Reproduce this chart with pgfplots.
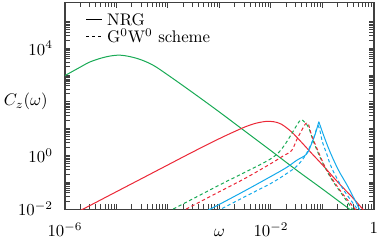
\documentclass[border=0pt]{standalone}
\usepackage{pgfplots}
\pgfplotsset{compat=1.18}
\definecolor{cgreen}{RGB}{25,170,85}
\definecolor{cred}{RGB}{235,40,55}
\definecolor{cblue}{RGB}{20,170,235}
\begin{document}
\begin{tikzpicture}
\begin{axis}[
  scale only axis, width=184.1pt, height=123.0pt,
  xmode=log, ymode=log,
  xmin=1e-6, xmax=1, ymin=1e-2, ymax=5e5,
  axis line style={black!75, line width=0.7pt},
  every tick/.style={black!75, line width=0.6pt},
  major tick length=3.0pt, minor tick num=0,
  tick align=inside, tick pos=both,
  xtick={1e-6,1e-5,1e-4,1e-3,1e-2,1e-1,1},
  xticklabels={$10^{-6}$,,,,$10^{-2}$,,$1$},
  ytick={1e-2,1e-1,1,1e1,1e2,1e3,1e4,1e5},
  yticklabels={$10^{-2}$,,$10^{0}$,,,,$10^{4}$,},
  xticklabel style={yshift=-4.5pt},
  yticklabel style={xshift=-3.7pt},
  xlabel={$\omega$},
  xlabel style={at={(axis description cs:0.5,-0.115)}, anchor=center},
  ylabel={$C_z(\omega)$},
  ylabel style={rotate=-90, at={(axis description cs:-0.127,0.52)}, anchor=center},
  legend style={draw=none, fill=none, at={(axis description cs:0.066,0.955)}, anchor=north west,
    inner sep=0pt, row sep=1.2pt,
    nodes={inner sep=0.4pt, text height=7.6pt, text depth=0.3pt},
    /tikz/every odd column/.append style={column sep=2.6pt}},
  legend cell align=left,
  legend image code/.code={\draw[#1] (0pt,0pt) -- (9.3pt,0pt);},
]
\addlegendimage{black, solid, line width=0.55pt}
\addlegendentry{NRG}
\addlegendimage{black, dash pattern=on 2pt off 1.55pt, line width=0.55pt}
\addlegendentry{G$^0$W$^0$ scheme}

% NRG (solid)
\addplot[cgreen, line width=0.6pt, smooth, tension=0.55, forget plot] coordinates {
(1e-6,955) (2.0e-6,1995) (3.16e-6,3162) (6.31e-6,4786) (1.2e-5,5495)
(2.51e-5,4169) (5.01e-5,2399) (1e-4,1000) (3.16e-4,209) (1e-3,41.7)
(3.16e-3,7.94) (1e-2,1.51) (3.16e-2,0.282) (0.1,0.0562) (0.363,0.0089)
};
\addplot[cred, line width=0.6pt, smooth, tension=0.55, forget plot] coordinates {
(2.0e-6,0.0089) (1e-5,0.0447) (3.16e-5,0.141) (1e-4,0.447) (3.16e-4,1.41)
(1e-3,4.27) (2.0e-3,7.94) (3.16e-3,11.7) (5.01e-3,15.8) (7.94e-3,18.6)
(1.12e-2,18.2) (1.585e-2,14.8) (2.51e-2,7.59) (3.98e-2,3.02) (6.31e-2,1.148)
(0.1,0.447) (0.2,0.1) (0.398,0.0251) (0.631,0.0091)
};
\addplot[cblue, line width=0.6pt, smooth, tension=0.55, forget plot] coordinates {
(5.62e-4,0.00851) (1e-3,0.0151) (3.16e-3,0.049) (1e-2,0.166) (2.0e-2,0.355)
(3.16e-2,0.661) (4.90e-2,1.122) (6.17e-2,2.82) (7.24e-2,6.31) (8.51e-2,18.2)
};
\addplot[cblue, line width=0.6pt, smooth, tension=0.55, forget plot] coordinates {
(8.51e-2,18.2) (0.105,5.75) (0.140,1.38) (0.204,0.288) (0.316,0.0661) (0.550,0.00832)
};

% G0W0 (dashed)
\addplot[cgreen, line width=0.6pt, smooth, tension=0.55, dash pattern=on 2pt off 1.55pt, forget plot] coordinates {
(1e-4,0.00794) (3.16e-4,0.0251) (1e-3,0.0794) (3.16e-3,0.240) (7.94e-3,0.589)
(1.26e-2,1.047) (1.78e-2,2.24) (2.51e-2,6.31) (3.16e-2,13.2) (3.80e-2,21.4)
(4.47e-2,17.8) (5.37e-2,11.2) (6.61e-2,3.55) (8.91e-2,0.891) (0.120,0.282)
(0.158,0.112) (0.251,0.0316) (0.417,0.00794)
};
\addplot[cred, line width=0.6pt, smooth, tension=0.55, dash pattern=on 2pt off 1.55pt, forget plot] coordinates {
(1.78e-4,0.00794) (1e-3,0.0447) (3.16e-3,0.141) (1e-2,0.501) (1.78e-2,1.0)
(2.51e-2,1.51) (3.16e-2,3.80) (3.98e-2,8.91) (4.79e-2,15.8) (5.37e-2,14.1)
(6.17e-2,5.62) (8.32e-2,1.38) (0.112,0.380) (0.158,0.126) (0.251,0.0355)
(0.479,0.00794)
};
\addplot[cblue, line width=0.6pt, smooth, tension=0.55, dash pattern=on 2pt off 1.55pt, forget plot] coordinates {
(8.91e-4,0.00832) (3.16e-3,0.0295) (1e-2,0.0912) (2.0e-2,0.209) (3.16e-2,0.398)
(4.47e-2,0.891) (5.62e-2,2.00) (6.76e-2,4.47) (8.32e-2,12.6) (0.100,3.16)
(0.120,1.20) (0.151,0.347) (0.251,0.0562) (0.513,0.00832)
};
\end{axis}
\pgfresetboundingbox
\path[use as bounding box] ([xshift=-38.7pt,yshift=-18.9pt]current axis.south west) rectangle ([xshift=4.8pt,yshift=1.6pt]current axis.north east);
\end{tikzpicture}
\end{document}
